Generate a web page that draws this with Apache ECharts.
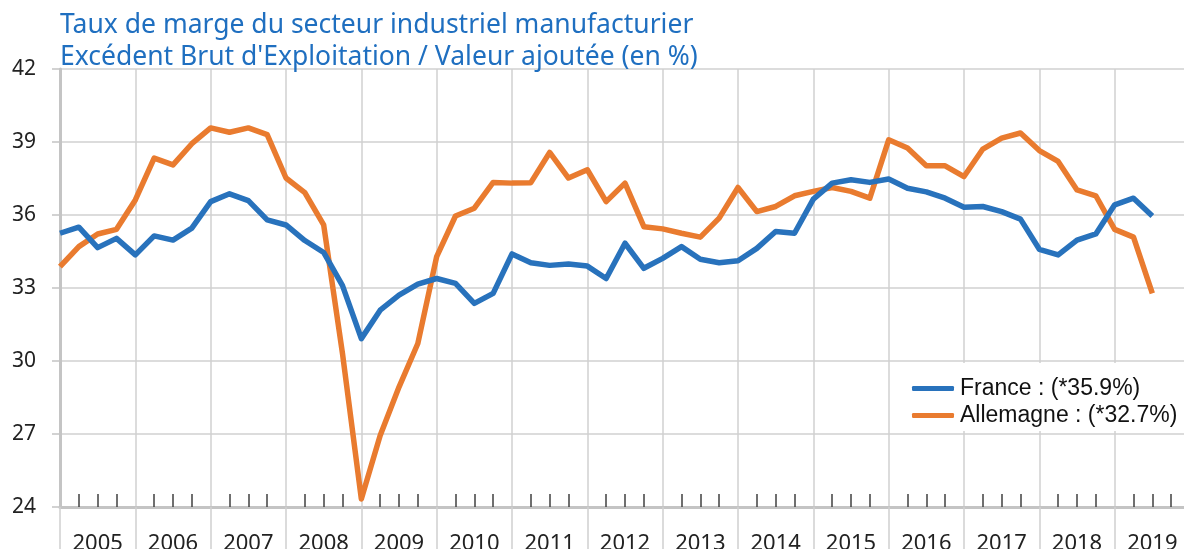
<!DOCTYPE html>
<html>
<head>
<meta charset="utf-8">
<script src="https://cdn.jsdelivr.net/npm/echarts@6/dist/echarts.min.js"></script>
<style>
    html, body { margin: 0; padding: 0; background: #fff; }
    #chart { width: 1184px; height: 549px; }
</style>
</head>
<body>
<div id="chart"></div>
<script>
// années affichées sur l'axe (un trimestre par point)
var years = [2005, 2006, 2007, 2008, 2009, 2010, 2011, 2012, 2013, 2014, 2015, 2016, 2017, 2018, 2019]
var quarterNames = ['T1', 'T2', 'T3', 'T4']

// taux de marge, 2005T1 -> 2019T3
var france = [
    35.25, 35.50, 34.66, 35.04, 34.36, 35.14, 34.97, 35.46,
    36.55, 36.87, 36.59, 35.80, 35.59, 34.95, 34.46, 33.10,
    30.92, 32.09, 32.71, 33.16, 33.39, 33.19, 32.37, 32.78,
    34.40, 34.04, 33.93, 33.99, 33.90, 33.39, 34.84, 33.81,
    34.22, 34.70, 34.18, 34.04, 34.12, 34.63, 35.32, 35.25,
    36.65, 37.31, 37.45, 37.34, 37.48, 37.10, 36.95, 36.69,
    36.32, 36.35, 36.14, 35.83, 34.59, 34.36, 34.97, 35.22,
    36.42, 36.69, 35.96
]
var allemagne = [
    33.88, 34.70, 35.22, 35.41, 36.62, 38.34, 38.06, 38.93,
    39.58, 39.40, 39.58, 39.30, 37.52, 36.92, 35.59, 30.30,
    24.33, 26.94, 28.93, 30.72, 34.29, 35.96, 36.28, 37.34,
    37.31, 37.33, 38.57, 37.52, 37.86, 36.55, 37.31, 35.52,
    35.43, 35.25, 35.09, 35.87, 37.13, 36.14, 36.35, 36.79,
    36.97, 37.13, 36.97, 36.69, 39.09, 38.75, 38.02, 38.02,
    37.58, 38.71, 39.16, 39.37, 38.65, 38.20, 37.03, 36.79,
    35.41, 35.09, 32.78
]
var seriesNames = ['France', 'Allemagne']
var lastValues = ['35.9', '32.7']

// catégories trimestrielles + un point de fin (2020T1) pour fermer l'axe
var quarters = []
years.forEach(function(y) {
    quarterNames.forEach(function(q) {
        quarters.push(y + q)
    })
})
quarters.push((years[years.length - 1] + 1) + 'T1')

var blue = '#2872bc'
var orange = '#e97b2f'
var gridColor = '#d0d0d0'
var axisColor = '#c4c4c4'
var font = '"Noto Sans", "Open Sans", sans-serif'

var myChart = echarts.init(document.getElementById('chart'))

var option = {
    animation: false,
    title: {
        text: 'Taux de marge du secteur industriel manufacturier\nExcédent Brut d\'Exploitation / Valeur ajoutée (en %)',
        left: 60,
        top: 9,
        padding: 0,
        textStyle: {
            color: '#1f6fc0',
            fontFamily: font,
            fontWeight: 'normal',
            fontSize: 26.5,
            lineHeight: 32
        }
    },
    legend: {
        orient: 'vertical',
        left: 907,
        top: 363,
        backgroundColor: '#fff',
        padding: [14, 40, 4, 5],
        itemGap: 4,
        itemWidth: 42,
        itemHeight: 5,
        icon: 'roundRect',
        data: seriesNames,
        formatter: function(name) {
            var i = seriesNames.indexOf(name)
            return name + ' : (*' + lastValues[i] + '%)'
        },
        textStyle: {
            color: '#111',
            fontFamily: '"Liberation Sans", Arial, sans-serif',
            fontSize: 23,
            padding: [0, 0, 0, 1]
        }
    },
    grid: {
        left: 60,
        top: 69,
        width: 1130,
        height: 438,
        outerBoundsMode: 'none'
    },
    xAxis: [{
        type: 'category',
        data: quarters,
        boundaryGap: false,
        axisLine: {
            show: true,
            lineStyle: { color: axisColor, width: 3 }
        },
        axisTick: {
            show: true,
            interval: function(index) { return index % 4 === 0 },
            length: 45,
            lineStyle: { color: gridColor, width: 1.5 }
        },
        splitLine: {
            show: true,
            interval: function(index) { return index % 4 === 0 },
            lineStyle: { color: gridColor, width: 1.5 }
        },
        axisLabel: {
            interval: function(index) { return index % 4 === 2 },
            formatter: function(value) { return value.slice(0, 4) },
            margin: 26,
            color: '#222',
            fontFamily: font,
            fontSize: 22
        }
    }, {
        // petits repères trimestriels, vers l'intérieur
        type: 'category',
        data: quarters,
        boundaryGap: false,
        position: 'bottom',
        axisLine: { show: false },
        axisTick: {
            show: true,
            inside: true,
            interval: function(index) { return index % 4 !== 0 },
            length: 13,
            lineStyle: { color: '#404040', width: 1.5 }
        },
        splitLine: { show: false },
        axisLabel: { show: false }
    }],
    yAxis: {
        type: 'value',
        min: 24,
        max: 42,
        interval: 3,
        axisLine: {
            show: true,
            lineStyle: { color: axisColor, width: 3 }
        },
        axisTick: {
            show: true,
            length: 8,
            lineStyle: { color: axisColor, width: 1.5 }
        },
        splitLine: {
            lineStyle: { color: gridColor, width: 1.5 }
        },
        axisLabel: {
            margin: 24,
            color: '#222',
            fontFamily: font,
            fontSize: 21
        }
    },
    series: [{
        name: seriesNames[0],
        type: 'line',
        data: france,
        symbol: 'none',
        color: blue,
        lineStyle: { width: 5.5, color: blue, join: 'round' },
        z: 3
    }, {
        name: seriesNames[1],
        type: 'line',
        data: allemagne,
        symbol: 'none',
        color: orange,
        lineStyle: { width: 5.5, color: orange, join: 'round' },
        z: 2
    }]
}

myChart.setOption(option)
</script>
</body>
</html>
